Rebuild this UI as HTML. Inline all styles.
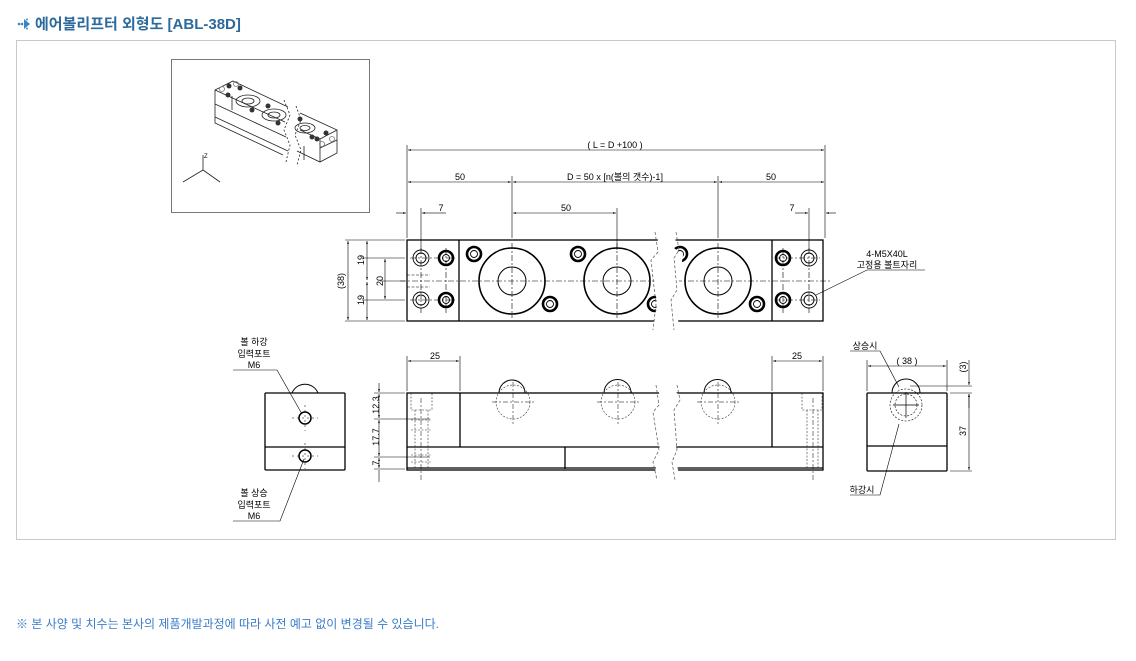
<!DOCTYPE html>
<html><head><meta charset="utf-8"><style>
body{margin:0;background:#fff;width:1136px;height:661px;overflow:hidden;font-family:"Liberation Sans","Noto Sans CJK KR",sans-serif}
svg{position:absolute;left:0;top:0}
.t{font-family:"Liberation Sans","Noto Sans CJK KR",sans-serif}
</style></head><body>
<svg width="1136" height="661" viewBox="0 0 1136 661" xmlns="http://www.w3.org/2000/svg">
<defs>
<marker id="a" viewBox="0 0 10 6" refX="10" refY="3" markerWidth="7" markerHeight="3" orient="auto-start-reverse"><path d="M0,0L10,3L0,6z" fill="#000"/></marker>
</defs>
<!-- title -->
<g fill="#3a86c8"><circle cx="19" cy="24" r="1.3"/><circle cx="22" cy="24" r="1.3"/><path d="M24,19 L30,24 L24,29z"/><circle cx="27" cy="19.5" r="1"/><circle cx="27" cy="28.5" r="1"/></g>
<text x="35" y="29" font-size="15" font-weight="bold" fill="#2c6a9c" class="t">에어볼리프터 외형도 [ABL-38D]</text>
<rect x="16.5" y="40.5" width="1099" height="499" fill="none" stroke="#c8c8c8"/>
<text x="16" y="628" font-size="12" fill="#3a7cc8" class="t">※ 본 사양 및 치수는 본사의 제품개발과정에 따라 사전 예고 없이 변경될 수 있습니다.</text>

<!-- iso box -->
<rect x="171.5" y="59.5" width="198" height="153" fill="none" stroke="#777"/>
<g stroke="#222" stroke-width="0.8" fill="none">
<path d="M215,90 L233,81 L288,107 M215,90 L215,117 L288,151 M215,90 L285,122 M215,104 L286,137 M215,117 L215,123 L283,155 M232,96 L232,110"/>
<path d="M300,113 L337,130 L337,153 L320,162 L297,151 M337,130 L320,139 L320,162 M320,148 L337,140 M320,139 L300,130 M304,146 L304,160"/>
<path d="M284,100 L290,115 L284,130 L290,145 L286,162" stroke-dasharray="2 2"/>
<path d="M296,106 L301,120 L295,135 L301,150 L297,165" stroke-dasharray="2 2"/>
<ellipse cx="248" cy="101" rx="12" ry="6"/><ellipse cx="248" cy="101" rx="6" ry="3"/>
<ellipse cx="274" cy="115" rx="12" ry="6"/><ellipse cx="274" cy="115" rx="6" ry="3"/>
<ellipse cx="305" cy="128" rx="10" ry="5"/><ellipse cx="305" cy="128" rx="5" ry="2.5"/>
<path d="M203,170 L203,155 M203,170 L183,182 M203,170 L220,182"/>
</g>
<g fill="#333"><circle cx="229" cy="86" r="2.5"/><circle cx="240" cy="88" r="2.5"/><circle cx="228" cy="95" r="2.5"/><circle cx="252" cy="110" r="2.5"/><circle cx="268" cy="106" r="2.5"/><circle cx="278" cy="123" r="2.5"/><circle cx="300" cy="119" r="2.5"/><circle cx="312" cy="137" r="2.5"/><circle cx="326" cy="133" r="2.5"/><circle cx="317" cy="139" r="2.5"/></g>
<g fill="none" stroke="#777" stroke-width="0.8"><circle cx="222" cy="89" r="2.5"/><circle cx="236" cy="84" r="2.5"/><circle cx="322" cy="144" r="2.5"/><circle cx="332" cy="139" r="2.5"/></g>
<text x="204" y="158" font-size="6" class="t">Z</text>

<!-- top view -->
<g stroke="#000" fill="none">
<rect x="407" y="240" width="416" height="81" stroke-width="1.3"/>
<path d="M459,240 V321 M772,240 V321" stroke-width="1.3"/>
</g>
<g stroke="#000" stroke-width="0.6" stroke-dasharray="6 2 2 2" fill="none">
<path d="M400,281 H830"/>
<path d="M512,243 V318 M617,243 V318 M718,243 V318"/>
<path d="M410,258 H455 M410,300 H455 M775,258 H820 M775,300 H820"/>
<path d="M421,248 V313 M446,248 V313 M783,248 V313 M809,248 V313"/>
</g>
<g stroke="#000" fill="none">
<circle cx="512" cy="281" r="33" stroke-width="1.6"/><circle cx="512" cy="281" r="14"/>
<circle cx="617" cy="281" r="33" stroke-width="1.6"/><circle cx="617" cy="281" r="14"/>
<circle cx="718" cy="281" r="33" stroke-width="1.6"/><circle cx="718" cy="281" r="14"/>
<g stroke-width="0.9"><circle cx="421" cy="258" r="8"/><circle cx="421" cy="258" r="5"/><circle cx="421" cy="300" r="8"/><circle cx="421" cy="300" r="5"/>
<circle cx="809" cy="258" r="8"/><circle cx="809" cy="258" r="5"/><circle cx="809" cy="300" r="8"/><circle cx="809" cy="300" r="5"/></g>
<g stroke-width="2.6"><circle cx="446" cy="258" r="7"/><circle cx="446" cy="300" r="7"/><circle cx="474" cy="254" r="7"/><circle cx="578" cy="254" r="7"/><circle cx="550" cy="304" r="7"/><circle cx="757" cy="304" r="7"/><circle cx="783" cy="258" r="7"/><circle cx="783" cy="300" r="7"/><circle cx="655" cy="304" r="7"/><circle cx="680" cy="254" r="7"/></g>
<g stroke-width="0.9"><circle cx="446" cy="258" r="3.5"/><circle cx="446" cy="300" r="3.5"/><circle cx="474" cy="254" r="3.5"/><circle cx="578" cy="254" r="3.5"/><circle cx="550" cy="304" r="3.5"/><circle cx="757" cy="304" r="3.5"/><circle cx="783" cy="258" r="3.5"/><circle cx="783" cy="300" r="3.5"/><circle cx="655" cy="304" r="3.5"/><circle cx="680" cy="254" r="3.5"/></g>
</g>
<!-- break top -->
<path d="M657,232 L659,252 L652,260 L657,305 L653,330 L680,330 L675,305 L683,255 L674,248 L677,232 Z" fill="#fff"/>
<g stroke="#555" stroke-dasharray="3 2" fill="none" stroke-width="0.7"><path d="M655,232 L658,252 L651,260 L656,305 L653,330"/><path d="M676,232 L679,250 L674,258 L677,290 L671,300 L674,330"/></g>

<!-- top dims -->
<g stroke="#000" stroke-width="0.6" fill="none">
<path d="M407,145 V238 M825,145 V238 M512,176 V238 M718,176 V238 M421,208 V250 M617,208 V250 M809,208 V250"/>
<path d="M408,150 H824" marker-start="url(#a)" marker-end="url(#a)"/>
<path d="M408,182 H511" marker-start="url(#a)" marker-end="url(#a)"/>
<path d="M513,182 H717" marker-start="url(#a)" marker-end="url(#a)"/>
<path d="M719,182 H824" marker-start="url(#a)" marker-end="url(#a)"/>
<path d="M513,213 H616" marker-start="url(#a)" marker-end="url(#a)"/>
<path d="M396,213 H406" marker-end="url(#a)"/><path d="M432,213 H422" marker-end="url(#a)"/><path d="M432,213 H446"/>
<path d="M795,213 H808" marker-end="url(#a)"/><path d="M836,213 H826" marker-end="url(#a)"/>
</g>
<g font-size="9" class="t" text-anchor="middle">
<text x="615" y="148">( L = D +100 )</text>
<text x="460" y="180">50</text><text x="615" y="180">D = 50 x [n(볼의 갯수)-1]</text><text x="771" y="180">50</text>
<text x="441" y="211">7</text><text x="566" y="211">50</text><text x="792" y="211">7</text>
</g>
<!-- left dims -->
<g stroke="#000" stroke-width="0.6" fill="none">
<path d="M345,240 H405 M362,258 H405 M362,300 H405 M345,321 H405 M380,281 H405"/>
<path d="M348,241 V320" marker-start="url(#a)" marker-end="url(#a)"/>
<path d="M367,241 V280" marker-start="url(#a)" marker-end="url(#a)"/>
<path d="M367,282 V320" marker-start="url(#a)" marker-end="url(#a)"/>
<path d="M385,259 V299" marker-start="url(#a)" marker-end="url(#a)"/>
<path d="M407,275 H430 M407,287 H430" stroke-dasharray="3 1.5"/>
</g>
<g font-size="9" class="t" text-anchor="middle">
<text transform="translate(344,281) rotate(-90)">(38)</text>
<text transform="translate(364,260) rotate(-90)">19</text>
<text transform="translate(364,300) rotate(-90)">19</text>
<text transform="translate(383,281) rotate(-90)">20</text>
</g>
<path d="M816,295 L867,270 H925" stroke="#000" stroke-width="0.6" fill="none"/>
<text x="887" y="257" font-size="9" class="t" text-anchor="middle">4-M5X40L</text>
<text x="887" y="268" font-size="9" class="t" text-anchor="middle">고정용 볼트자리</text>

<!-- front view -->
<g stroke="#000" fill="none">
<rect x="407" y="393" width="416" height="77" stroke-width="1.3"/>
<path d="M407,447 H823 M460,393 V447 M772,393 V447 M565,447 V469 M407,468 H823" stroke-width="1.3"/>
<path d="M499,393 A13,13 0 0 1 525,393 M604,393 A13,13 0 0 1 631,393 M704,393 A13,13 0 0 1 731,393"/>
</g>
<g stroke="#333" stroke-width="0.6" stroke-dasharray="2 1.5" fill="none">
<circle cx="513" cy="402" r="17"/><circle cx="618" cy="402" r="17"/><circle cx="718" cy="402" r="17"/>
<path d="M411,393 V410 H432 V393 M415,410 V469 M428,410 V469 M411,420 H432 M411,430 H432 M411,455 H432 M411,462 H432"/>
<path d="M802,393 V410 H822 V393 M807,410 V469 M818,410 V469"/>
</g>
<g stroke="#000" stroke-width="0.5" stroke-dasharray="5 2 2 2" fill="none">
<path d="M492,402 H535 M513,382 V425 M597,402 H640 M618,382 V425 M697,402 H740 M718,382 V425 M421,398 V482 M813,398 V482"/>
</g>
<path d="M658,385 L660,400 L653,410 L660,450 L653,480 L680,480 L675,455 L683,400 L676,392 L678,385 Z" fill="#fff"/>
<g stroke="#555" stroke-dasharray="3 2" fill="none" stroke-width="0.7"><path d="M656,385 L659,405 L653,412 L659,450 L653,462 L657,480"/><path d="M677,385 L680,400 L674,410 L677,450 L672,462 L675,480"/></g>
<g stroke="#000" stroke-width="0.6" fill="none">
<path d="M407,356 V391 M460,356 V391 M772,356 V391 M823,356 V391"/>
<path d="M408,361 H459" marker-start="url(#a)" marker-end="url(#a)"/>
<path d="M773,361 H822" marker-start="url(#a)" marker-end="url(#a)"/>
<path d="M374,393 H405 M374,419 H430 M374,457 H430 M374,469 H405"/>
<path d="M379,383 V392" marker-end="url(#a)"/><path d="M379,394 V418" marker-start="url(#a)" marker-end="url(#a)"/>
<path d="M379,420 V456" marker-start="url(#a)" marker-end="url(#a)"/><path d="M379,458 V468" marker-start="url(#a)" marker-end="url(#a)"/><path d="M379,470 V482"/>
</g>
<g font-size="9" class="t" text-anchor="middle">
<text x="435" y="359">25</text><text x="797" y="359">25</text>
<text transform="translate(379,405) rotate(-90)">12.3</text>
<text transform="translate(379,437) rotate(-90)">17.7</text>
<text transform="translate(379,463) rotate(-90)">7</text>
</g>

<!-- left side view -->
<g stroke="#000" fill="none">
<rect x="265" y="393" width="80" height="77" rx="1" stroke-width="1.3"/>
<path d="M265,447 H345" stroke-width="1.3"/>
<path d="M292,393 A14,14 0 0 1 318,393"/>
<circle cx="305" cy="418" r="6" stroke-width="1.5"/><circle cx="305" cy="456" r="6" stroke-width="1.5"/>
<path d="M233,370 H277 L302,414 M233,521 H280 L304,459" stroke-width="0.6"/>
</g>
<g stroke="#000" stroke-width="0.5" stroke-dasharray="2 3"><path d="M292,418 H318 M305,405 V431 M292,456 H318 M305,443 V469"/></g>
<g font-size="9" class="t" text-anchor="middle">
<text x="254" y="345">볼 하강</text><text x="254" y="357">입력포트</text><text x="254" y="368">M6</text>
<text x="254" y="496">볼 상승</text><text x="254" y="508">입력포트</text><text x="254" y="519">M6</text>
</g>

<!-- right side view -->
<g stroke="#000" fill="none">
<rect x="867" y="393" width="80" height="78" rx="1" stroke-width="1.3"/>
<path d="M867,446 H947" stroke-width="1.3"/>
<path d="M892,393 A14,14 0 0 1 920,393"/>
<circle cx="906" cy="405" r="16" stroke-dasharray="2 1.5" stroke-width="0.6"/>
<circle cx="906" cy="405" r="11" stroke-dasharray="2 1.5" stroke-width="0.6"/>
<path d="M893,405 H919 M906,392 V418" stroke-width="0.7"/>
<g stroke-width="0.6">
<path d="M867,360 V391 M947,360 V391"/>
<path d="M868,366 H946" marker-start="url(#a)" marker-end="url(#a)"/>
<path d="M910,386 H972 M950,393 H972 M950,471 H972"/>
<path d="M969,360 V385" marker-end="url(#a)"/><path d="M969,408 V394" marker-end="url(#a)"/>
<path d="M969,394 V470" marker-start="url(#a)" marker-end="url(#a)"/>
<path d="M850,351 H880 L899,387 M850,495 H880 L899,424"/>
</g>
</g>
<g font-size="9" class="t" text-anchor="middle">
<text x="907" y="364">( 38 )</text>
<text transform="translate(966,367) rotate(-90)">(3)</text>
<text transform="translate(966,431) rotate(-90)">37</text>
<text x="865" y="349">상승시</text><text x="862" y="493">하강시</text>
</g>
</svg>
</body></html>
